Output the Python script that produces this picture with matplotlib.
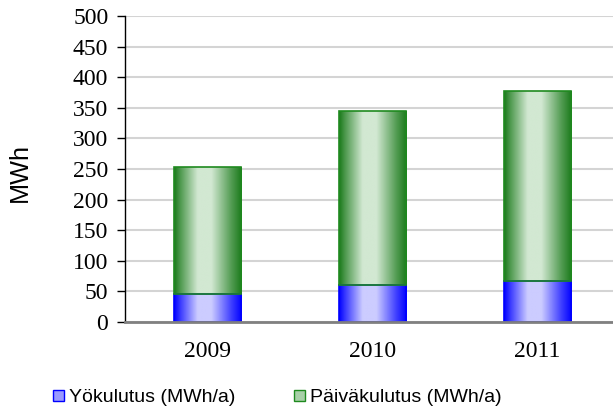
import numpy as np
import matplotlib
matplotlib.use("Agg")
import matplotlib.pyplot as plt
from matplotlib.patches import Rectangle, Patch
from matplotlib.colors import LinearSegmentedColormap

years = ["2009", "2010", "2011"]
night = [45, 61, 67]        # Yökulutus (MWh/a)
day = [208, 284, 311]       # Päiväkulutus (MWh/a)
series_labels = ["Yökulutus (MWh/a)", "Päiväkulutus (MWh/a)"]
yticks = [0, 50, 100, 150, 200, 250, 300, 350, 400, 450, 500]

W, H = 613, 409
fig = plt.figure(figsize=(W / 100, H / 100), dpi=100)
ax = fig.add_axes([125 / W, 1 - 322 / H, 495 / W, 306 / H])

x = np.arange(len(years))
bw = 0.41

# horizontal gradient profile: dark edges, light centre
tt = np.linspace(0, 1, 256)
prof = np.interp(tt, [0, 0.08, 0.35, 0.55, 0.85, 1], [0, 0.25, 1, 1, 0.3, 0])
grad = prof[np.newaxis, :]

blue_cmap = LinearSegmentedColormap.from_list("b", ["#0000ff", "#ccccff"])
green_cmap = LinearSegmentedColormap.from_list("g", ["#1a7a1a", "#d2e8d2"])


def gradient_bars(bottoms, heights, cmap, edge):
    rects = ax.bar(x, heights, bw, bottom=bottoms, color="none",
                   edgecolor=edge, linewidth=1.2, zorder=3)
    for r in rects:
        x0, y0 = r.get_x(), r.get_y()
        w, h = r.get_width(), r.get_height()
        im = ax.imshow(grad, cmap=cmap, aspect="auto",
                       extent=(x0, x0 + w, y0, y0 + h), zorder=2,
                       vmin=0, vmax=1, interpolation="bilinear")
        clip = Rectangle((x0, y0), w, h, transform=ax.transData)
        im.set_clip_path(clip)
    return rects


gradient_bars([0] * 3, night, blue_cmap, "#0000ff")
gradient_bars(night, day, green_cmap, "#1f8a1f")

ax.set_xlim(-0.5, 2.5)
ax.set_ylim(0, 500)
ax.set_yticks(yticks)
ax.set_xticks(x)
ax.set_xticklabels(years)

for lab in ax.get_xticklabels() + ax.get_yticklabels():
    lab.set_fontfamily("Liberation Serif")
    lab.set_fontsize(17)

ax.tick_params(axis="y", direction="out", length=6, width=1, pad=6, color="black")
ax.tick_params(axis="x", length=0, pad=14)
ax.yaxis.grid(True, color="#d4d4d4", linewidth=1.5, zorder=0)
ax.set_axisbelow(True)

for s in ["top", "right"]:
    ax.spines[s].set_visible(False)
ax.spines["left"].set_color("black")
ax.spines["left"].set_linewidth(1)
ax.spines["bottom"].set_color("#808080")
ax.spines["bottom"].set_linewidth(2)
ax.spines["bottom"].set_zorder(4)

ax.set_ylabel("MWh", fontfamily="Liberation Sans", fontsize=18.2)
ax.yaxis.set_label_coords(-0.188, 0.489)

handles = [Patch(facecolor="#9a9aff", edgecolor="#0000ff", linewidth=1),
           Patch(facecolor="#a8d0a8", edgecolor="#1f8a1f", linewidth=1)]
fig.legend(handles, series_labels, loc="center left",
           bbox_to_anchor=(53 / W, 1 - 398 / H), ncol=2, frameon=False,
           prop={"family": "Liberation Sans", "size": 14},
           handlelength=0.55, handleheight=0.55, handletextpad=0.25,
           columnspacing=3.05, borderpad=0, borderaxespad=0)

fig.savefig("out.png", dpi=100)
